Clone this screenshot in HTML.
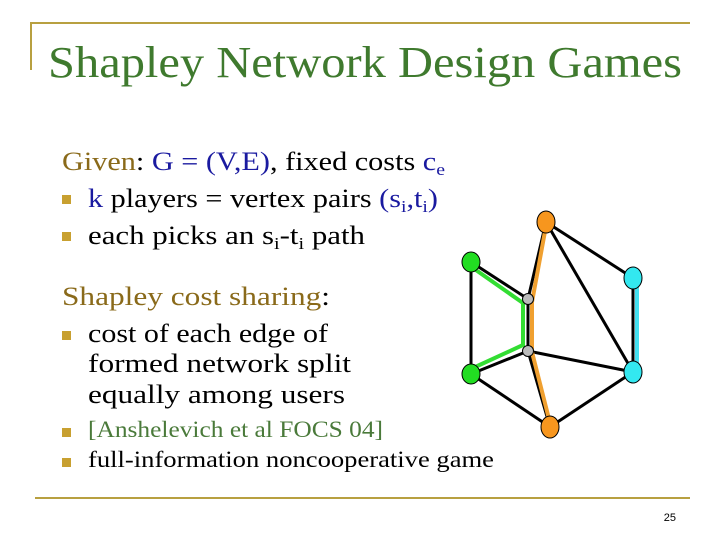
<!DOCTYPE html>
<html><head><meta charset="utf-8"><style>html,body{margin:0;padding:0;background:#fff}svg{display:block}</style></head>
<body>
<svg width="720" height="540" viewBox="0 0 720 540" xmlns="http://www.w3.org/2000/svg" font-family="'Liberation Serif', serif">
<rect width="720" height="540" fill="#fff"/>
<line x1="30" y1="23" x2="690" y2="23" stroke="#b8a040" stroke-width="2"/>
<line x1="31" y1="22" x2="31" y2="70" stroke="#b8a040" stroke-width="2"/>
<line x1="35" y1="498" x2="690" y2="498" stroke="#b8a040" stroke-width="2"/>
<text x="48" y="77" font-size="44" fill="#3f7a2e" textLength="634" lengthAdjust="spacingAndGlyphs">Shapley Network Design Games</text>
<g font-size="26">
<text x="62" y="170" textLength="383" lengthAdjust="spacingAndGlyphs"><tspan fill="#8a6a1a">Given</tspan><tspan fill="#000">: </tspan><tspan fill="#1a1aa0">G = (V,E)</tspan><tspan fill="#000">, fixed costs </tspan><tspan fill="#1a1aa0">c</tspan><tspan fill="#1a1aa0" font-size="17" dy="5">e</tspan></text>
<text x="88" y="207" textLength="350" lengthAdjust="spacingAndGlyphs"><tspan fill="#1a1aa0">k</tspan><tspan fill="#000"> players = vertex pairs </tspan><tspan fill="#1a1aa0">(s</tspan><tspan fill="#1a1aa0" font-size="17" dy="5">i</tspan><tspan fill="#1a1aa0" dy="-5">,t</tspan><tspan fill="#1a1aa0" font-size="17" dy="5">i</tspan><tspan fill="#1a1aa0" dy="-5">)</tspan></text>
<text x="88" y="244" textLength="277" lengthAdjust="spacingAndGlyphs" fill="#000">each picks an s<tspan font-size="17" dy="5">i</tspan><tspan dy="-5">-t</tspan><tspan font-size="17" dy="5">i</tspan><tspan dy="-5"> path</tspan></text>
<text x="62" y="305" textLength="268" lengthAdjust="spacingAndGlyphs"><tspan fill="#8a6a1a">Shapley cost sharing</tspan><tspan fill="#000">:</tspan></text>
<text x="88" y="342" textLength="240" lengthAdjust="spacingAndGlyphs">cost of each edge of</text>
<text x="88" y="372" textLength="263" lengthAdjust="spacingAndGlyphs">formed network split</text>
<text x="88" y="403" textLength="257" lengthAdjust="spacingAndGlyphs">equally among users</text>
</g>
<g font-size="23">
<text x="88" y="437" textLength="295" lengthAdjust="spacingAndGlyphs" fill="#4a7a3a">[Anshelevich et al FOCS 04]</text>
<text x="88" y="467" textLength="406" lengthAdjust="spacingAndGlyphs">full-information noncooperative game</text>
</g>
<g fill="#c8a030">
<rect x="62" y="195" width="9" height="9"/>
<rect x="62" y="232" width="9" height="9"/>
<rect x="62" y="331" width="9" height="9"/>
<rect x="62" y="428" width="9" height="9"/>
<rect x="62" y="458" width="9" height="9"/>
</g>
<text x="676" y="521" font-size="11" font-family="'Liberation Sans', sans-serif" text-anchor="end">25</text>
<g stroke="#000" stroke-width="3" fill="none">
<line x1="471" y1="262" x2="528" y2="299"/>
<line x1="471" y1="262" x2="471" y2="374"/>
<line x1="528" y1="299" x2="546" y2="222"/>
<line x1="546" y1="222" x2="633" y2="278"/>
<line x1="546" y1="222" x2="633" y2="372"/>
<line x1="633" y1="278" x2="633" y2="372"/>
<line x1="528" y1="299" x2="528" y2="351"/>
<line x1="528" y1="351" x2="471" y2="374"/>
<line x1="528" y1="351" x2="633" y2="372"/>
<line x1="528" y1="351" x2="550" y2="427"/>
<line x1="471" y1="374" x2="550" y2="427"/>
<line x1="550" y1="427" x2="633" y2="372"/>
</g>
<polyline points="473,268 523,303 523,345 473,368" fill="none" stroke="#33dd33" stroke-width="4"/>
<polyline points="546,226 532,302 532,352 550,423" fill="none" stroke="#f0a030" stroke-width="4"/>
<line x1="637" y1="280" x2="637" y2="370" stroke="#44e0f0" stroke-width="4"/>
<g stroke="#000" stroke-width="1">
<ellipse cx="546" cy="222" rx="9" ry="11" fill="#f7961e"/>
<ellipse cx="550" cy="427" rx="9" ry="11" fill="#f7961e"/>
<ellipse cx="471" cy="262" rx="9" ry="10" fill="#22dd22"/>
<ellipse cx="471" cy="374" rx="9" ry="10" fill="#22dd22"/>
<ellipse cx="633" cy="278" rx="9" ry="11" fill="#33e8f0"/>
<ellipse cx="633" cy="372" rx="9" ry="11" fill="#33e8f0"/>
<circle cx="528" cy="299" r="5.5" fill="#bbb"/>
<circle cx="528" cy="351" r="5.5" fill="#bbb"/>
</g>
</svg>
</body></html>
